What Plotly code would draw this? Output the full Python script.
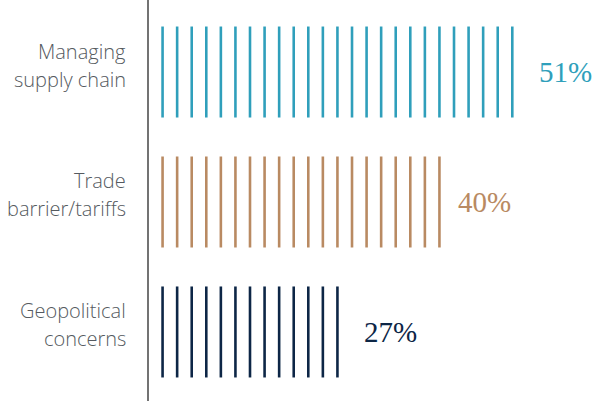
import plotly.graph_objects as go

categories = [["Managing", "supply chain"], ["Trade", "barrier/tariffs"], ["Geopolitical", "concerns"]]
values = [51, 40, 27]
labels = ["51%", "40%", "27%"]
colors = ["#2f9fbb", "#b98a62", "#0d2646"]
y_pos = [2, 1, 0]
step = 2
half = 0.35

fig = go.Figure()
for cat, v, c, y, lab in zip(categories, values, colors, y_pos, labels):
    xs, ys = [], []
    k = step
    while k <= v:
        xs += [k, k, None]
        ys += [y - half, y + half, None]
        k += step
    fig.add_trace(go.Scatter(x=xs, y=ys, mode="lines", line=dict(color=c, width=2.6),
                             hoverinfo="skip", showlegend=False))
    fig.add_annotation(x=v, y=y, text=lab, showarrow=False,
                       xanchor="left", xshift=17,
                       font=dict(family="Liberation Serif", size=29, color=c))
    for line_text, shift in zip(cat, [21, -7]):
        fig.add_annotation(x=0, xref="paper", y=y, text=line_text, showarrow=False,
                           xanchor="right", yanchor="middle", xshift=-20, yshift=shift,
                           font=dict(family="Open Sans", size=20, weight=300, color="#555a60"))

fig.update_layout(
    width=599, height=401,
    margin=dict(l=148, r=0, t=0, b=0),
    plot_bgcolor="white", paper_bgcolor="white",
    xaxis=dict(range=[0, 61.9], visible=False),
    yaxis=dict(range=[-0.531, 2.554], visible=False),
)
fig.add_shape(type="line", xref="paper", yref="paper", x0=0, x1=0, y0=0, y1=1,
              line=dict(color="#444444", width=1.5))
fig.write_html("out.html")
